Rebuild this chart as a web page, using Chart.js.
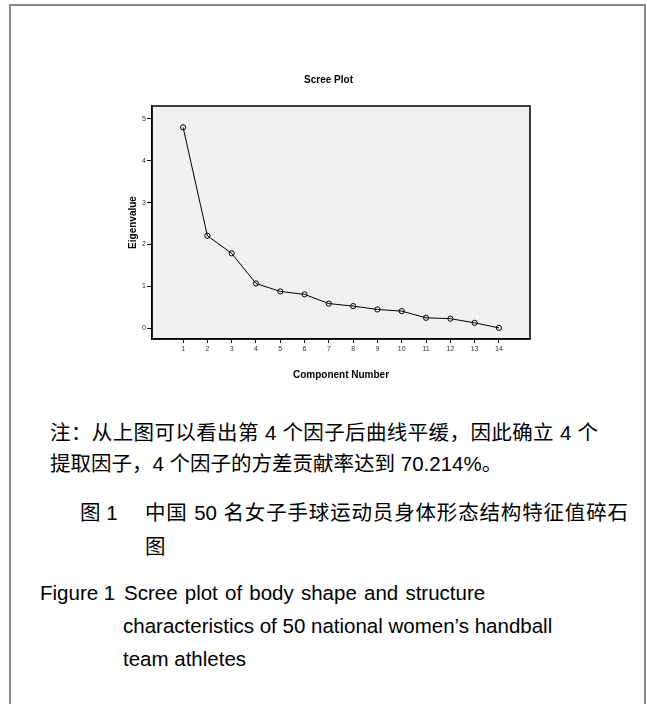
<!DOCTYPE html>
<html>
<head>
<meta charset="utf-8">
<script src="https://cdn.jsdelivr.net/npm/chart.js@4"></script>
<style>
  html, body { margin: 0; padding: 0; background: #fff; }
  body { width: 647px; height: 704px; position: relative; overflow: hidden;
         font-family: "Liberation Sans", Arial, "Noto Sans CJK SC", sans-serif; color: #000; }
  #frame { position: absolute; left: 9px; top: 4px; width: 633px; height: 760px;
           border: 2px solid #8a8a8a; border-bottom: none; }
  #chart { position: absolute; left: 0; top: 0; }
  .t { position: absolute; font-size: 20.5px; white-space: nowrap; line-height: 1; }
  .j { text-align: justify; text-align-last: justify; white-space: normal; }
</style>
</head>
<body>
<div id="frame"></div>
<canvas id="chart" width="647" height="400"></canvas>
<div class="t j" style="left:50px; top:423px; width:548px;">注：从上图可以看出第 4 个因子后曲线平缓，因此确立 4 个</div>
<div class="t" style="left:50px; top:454px;">提取因子，4 个因子的方差贡献率达到 70.214%。</div>
<div class="t" style="left:80px; top:503px;">图 1</div>
<div class="t j" style="left:145px; top:503px; width:483px;">中国 50 名女子手球运动员身体形态结构特征值碎石</div>
<div class="t" style="left:145px; top:537px;">图</div>
<div class="t" style="left:40px; top:583px;">Figure 1</div>
<div class="t" style="left:124px; top:583px; word-spacing:1.5px;">Scree plot of body shape and structure</div>
<div class="t" style="left:123px; top:616px;">characteristics of 50 national women’s handball</div>
<div class="t" style="left:123px; top:649px;">team athletes</div>
<script>
const components = [1, 2, 3, 4, 5, 6, 7, 8, 9, 10, 11, 12, 13, 14];
const eigenvalues = [4.80, 2.21, 1.79, 1.07, 0.88, 0.81, 0.59, 0.53, 0.45, 0.41, 0.25, 0.23, 0.13, 0.01];
const yTickValues = [0, 1, 2, 3, 4, 5];
const chartTitle = 'Scree Plot';
const xTitle = 'Component Number';
const yTitle = 'Eigenvalue';

const FONT = '"Liberation Sans", Arial, sans-serif';

const plotFrame = {
  id: 'plotFrame',
  beforeDraw(chart) {
    const a = chart.chartArea, ctx = chart.ctx;
    ctx.save();
    ctx.fillStyle = '#f0f0f0';
    ctx.fillRect(a.left, a.top, a.right - a.left, a.bottom - a.top);
    ctx.restore();
  },
  afterDraw(chart) {
    const a = chart.chartArea, ctx = chart.ctx;
    ctx.save();
    ctx.strokeStyle = '#000';
    ctx.lineWidth = 1.5;
    ctx.strokeRect(a.left, a.top, a.right - a.left, a.bottom - a.top);
    ctx.restore();
  }
};

new Chart(document.getElementById('chart'), {
  type: 'scatter',
  data: {
    datasets: [{
      data: components.map((c, i) => ({ x: c, y: eigenvalues[i] })),
      showLine: true,
      borderColor: '#000',
      borderWidth: 1,
      pointRadius: 2.6,
      pointBorderWidth: 1,
      pointBorderColor: '#000',
      pointBackgroundColor: 'rgba(0,0,0,0)',
      tension: 0
    }]
  },
  options: {
    responsive: false,
    devicePixelRatio: 1,
    animation: false,
    layout: { padding: { left: 127, right: 117, top: 60, bottom: 18.6 } },
    plugins: {
      legend: { display: false },
      tooltip: { enabled: false },
      title: {
        display: true, text: chartTitle, color: '#000',
        font: { family: FONT, size: 10, weight: 'bold', lineHeight: 1.2 },
        padding: { top: 14.6, bottom: 19.4 }
      }
    },
    scales: {
      x: {
        type: 'linear', min: -0.28, max: 15.28,
        afterBuildTicks: s => { s.ticks = components.map(v => ({ value: v })); },
        afterFit: s => { s.height = 42.4; },
        grid: { drawOnChartArea: false, drawTicks: true, tickLength: 4, color: '#000', lineWidth: 1 },
        border: { display: true, color: '#000', width: 1.5 },
        ticks: { color: '#333', font: { family: FONT, size: 7 }, padding: 2, maxRotation: 0, autoSkip: false },
        title: { display: true, text: xTitle, color: '#000', padding: 0,
                 font: { family: FONT, size: 10, weight: 'bold', lineHeight: 1.2 } }
      },
      y: {
        type: 'linear', min: -0.256, max: 5.31,
        afterBuildTicks: s => { s.ticks = yTickValues.map(v => ({ value: v })); },
        afterFit: s => { s.width = 25; },
        grid: { drawOnChartArea: false, drawTicks: true, tickLength: 5, color: '#000', lineWidth: 1 },
        border: { display: true, color: '#000', width: 1.5 },
        ticks: { color: '#333', font: { family: FONT, size: 7 }, padding: 1 },
        title: { display: true, text: yTitle, color: '#000', padding: 0,
                 font: { family: FONT, size: 10, weight: 'bold', lineHeight: 1.2 } }
      }
    }
  },
  plugins: [plotFrame]
});
</script>
</body>
</html>
